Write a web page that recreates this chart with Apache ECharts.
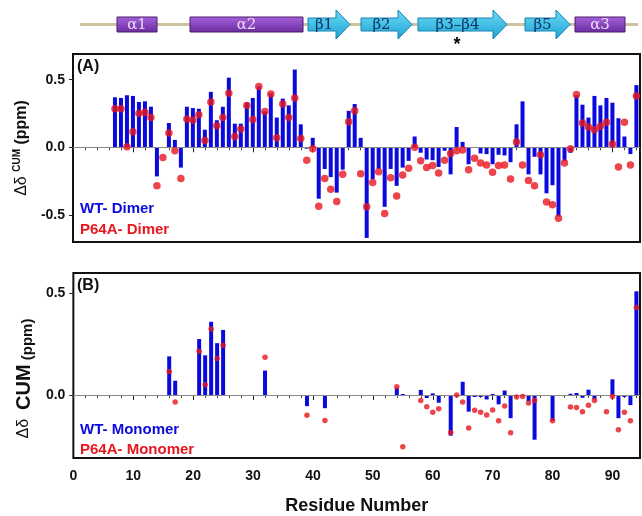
<!DOCTYPE html>
<html>
<head>
<meta charset="utf-8">
<script src="https://cdn.jsdelivr.net/npm/echarts@6/dist/echarts.min.js"></script>
<style>
  html, body { margin: 0; padding: 0; background: #fff; }
  #chart { width: 642px; height: 516px; }
</style>
</head>
<body>
<div id="chart"></div>
<script>
// residues 7..94, panel (A)
var residuesA = [];
for (var r = 7; r <= 94; r++) residuesA.push(r);

var wtDimer = [
  0.37, 0.365, 0.385, 0.38, 0.335, 0.34, 0.30, -0.215, null, 0.18,
  0.055, -0.15, 0.30, 0.29, 0.285, 0.13, 0.41, 0.20, 0.30, 0.515,
  0.175, 0.175, 0.33, 0.365, 0.45, 0.265, 0.40, 0.22, 0.36, 0.31,
  0.575, 0.17, -0.01, 0.07, -0.38, -0.16, -0.22, -0.335, -0.165, 0.27,
  0.32, 0.07, -0.67, -0.235, -0.16, -0.44, -0.16, -0.285, -0.15, -0.10,
  0.08, -0.04, -0.09, -0.095, -0.145, -0.025, -0.20, 0.15, 0.04, -0.125,
  -0.005, -0.045, -0.05, -0.125, -0.055, -0.06, -0.11, 0.17, 0.34, -0.20,
  -0.07, -0.20, -0.34, -0.28, -0.51, -0.10, -0.04, 0.385, 0.315, 0.22,
  0.38, 0.31, 0.365, 0.33, 0.215, 0.08, -0.05, 0.46
];
var p64aDimer = [
  0.285, 0.285, 0.005, 0.115, 0.25, 0.26, 0.22, -0.285, -0.075, 0.105,
  -0.025, -0.23, 0.21, 0.20, 0.24, 0.05, 0.335, 0.16, 0.22, 0.40,
  0.08, 0.135, 0.31, 0.205, 0.45, 0.265, 0.395, 0.07, 0.32, 0.22,
  0.365, 0.065, -0.095, -0.01, -0.435, -0.23, -0.31, -0.40, -0.20, 0.19,
  0.27, -0.195, -0.44, -0.26, -0.18, -0.49, -0.225, -0.36, -0.205, -0.155,
  0.0, -0.10, -0.15, -0.135, -0.19, -0.095, -0.045, -0.025, -0.02, -0.165,
  -0.08, -0.115, -0.13, -0.185, -0.135, -0.13, -0.235, 0.04, -0.13, -0.245,
  -0.285, -0.055, -0.405, -0.425, -0.525, -0.115, -0.01, 0.39, 0.18, 0.15,
  0.13, 0.155, 0.185, 0.025, -0.145, 0.185, -0.13, 0.38
];

// panel (B)
var residuesB = [16, 17, 21, 22, 23, 24, 25, 32, 39, 42, 54, 55, 58, 59, 60, 61,
  63, 64, 65, 66, 67, 68, 69, 70, 71, 72, 73, 74, 75, 76, 77, 80,
  83, 84, 85, 86, 87, 89, 90, 91, 92, 93, 94];
var wtMonomer = [0.19, 0.07, 0.275, 0.195, 0.36, 0.255, 0.32, 0.12, -0.055, -0.065, 0.035, 0.005, 0.025, -0.015, 0.008, -0.038,
  -0.20, null, 0.065, -0.082, -0.01, -0.01, -0.022, 0.005, -0.046, 0.022, -0.114, null, null, -0.03, -0.22, -0.127,
  0.006, 0.01, -0.014, 0.026, -0.021, null, 0.077, -0.114, -0.01, -0.05, 0.51];
var p64aMonomer = [0.115, -0.035, 0.215, 0.05, 0.325, 0.18, 0.245, 0.185, -0.10, -0.125, 0.04, -0.255, -0.027, -0.058, -0.085, -0.068,
  -0.185, 0.0, -0.035, -0.163, -0.075, -0.085, -0.098, -0.074, -0.127, -0.054, -0.186, -0.01, -0.008, -0.04, -0.027, -0.127,
  -0.059, -0.062, -0.082, -0.05, -0.027, -0.082, -0.008, -0.171, -0.085, -0.127, 0.43];

var xTicks = [0, 10, 20, 30, 40, 50, 60, 70, 80, 90];
var yTicksA = [-0.5, 0, 0.5];
var yTicksB = [0, 0.5];

function pairs (xs, ys) {
  var out = [];
  xs.forEach(function (x, i) {
    if (ys[i] !== null) out.push([x, ys[i]]);
  });
  return out;
}

var BLUE = '#0a0ade';
var RED = '#e8161e';
var FONT = 'Liberation Sans, Arial, sans-serif';

// secondary structure elements along the top
var helices = [
  { name: 'α1', x0: 117, x1: 157 },
  { name: 'α2', x0: 190, x1: 303 },
  { name: 'α3', x0: 575, x1: 625 }
];
var strands = [
  { name: 'β1', x0: 308, x1: 350 },
  { name: 'β2', x0: 361, x1: 412 },
  { name: 'β3–β4', x0: 418, x1: 507 },
  { name: 'β5', x0: 525, x1: 570 }
];

var graphics = [{
  type: 'rect',
  shape: { x: 80, y: 23, width: 558, height: 3 },
  style: { fill: '#cfc29f' }
}];
helices.forEach(function (h) {
  graphics.push({
    type: 'rect',
    shape: { x: h.x0, y: 17, width: h.x1 - h.x0, height: 15 },
    style: {
      fill: new echarts.graphic.LinearGradient(0, 0, 0, 1, [
        { offset: 0, color: '#a862dc' },
        { offset: 1, color: '#6a2b9e' }
      ]),
      stroke: '#4a1f6e',
      lineWidth: 1
    }
  });
  graphics.push({
    type: 'text',
    x: (h.x0 + h.x1) / 2,
    y: 25,
    style: {
      text: h.name, align: 'center', verticalAlign: 'middle',
      fill: '#eadcf8', font: '15px DejaVu Serif, serif'
    }
  });
});
strands.forEach(function (s) {
  var xh = s.x1 - 14;
  graphics.push({
    type: 'polygon',
    shape: {
      points: [[s.x0, 18], [xh, 18], [xh, 10], [s.x1, 24.5], [xh, 39], [xh, 31], [s.x0, 31]]
    },
    style: {
      fill: new echarts.graphic.LinearGradient(0, 0, 0, 1, [
        { offset: 0, color: '#6fdcf6' },
        { offset: 1, color: '#1aa2d4' }
      ]),
      stroke: '#1684b4',
      lineWidth: 1
    }
  });
  graphics.push({
    type: 'text',
    x: (s.x0 + xh) / 2 + 2,
    y: 25,
    style: {
      text: s.name, align: 'center', verticalAlign: 'middle',
      fill: '#0d3566', font: '15px DejaVu Serif, serif'
    }
  });
});
graphics.push({
  type: 'text', x: 457, y: 45,
  style: { text: '*', align: 'center', verticalAlign: 'middle', fill: '#000', font: 'bold 18px ' + FONT }
});

// panel labels and legends
function label (txt, x, y, color, size) {
  return {
    type: 'text', x: x, y: y, z: 10,
    style: { text: txt, align: 'left', verticalAlign: 'middle', fill: color, font: 'bold ' + size + 'px ' + FONT }
  };
}
graphics.push(label('(A)', 77, 67, '#111', 16));
graphics.push(label('WT- Dimer', 80, 209, BLUE, 15));
graphics.push(label('P64A- Dimer', 80, 230, RED, 15));
graphics.push(label('(B)', 77, 286, '#111', 16));
graphics.push(label('WT- Monomer', 80, 430, BLUE, 15));
graphics.push(label('P64A- Monomer', 80, 450, RED, 15));

function xAxisFor (idx, showLabels) {
  return {
    type: 'value',
    gridIndex: idx,
    min: 0,
    max: 94.6,
    interval: 10,
    axisLine: { show: false },
    axisTick: { show: true, inside: false, length: 5, lineStyle: { color: '#222', width: 1 } },
    minorTick: { show: true, splitNumber: 5, length: 3, lineStyle: { color: '#444' } },
    splitLine: { show: false },
    axisLabel: {
      show: showLabels,
      margin: 11,
      color: '#111',
      fontFamily: FONT,
      fontWeight: 'bold',
      fontSize: 14,
      customValues: xTicks
    },
    name: showLabels ? 'Residue Number' : '',
    nameLocation: 'middle',
    nameGap: 39,
    nameTextStyle: { color: '#111', fontFamily: FONT, fontWeight: 'bold', fontSize: 18 }
  };
}

function yAxisFor (idx, min, max, ticks, name, rich, padding) {
  return {
    type: 'value',
    gridIndex: idx,
    min: min,
    max: max,
    axisLine: { show: false },
    axisTick: { show: true, length: 4, customValues: ticks, lineStyle: { color: '#222' } },
    splitLine: { show: false },
    axisLabel: {
      margin: 8,
      color: '#111',
      fontFamily: FONT,
      fontWeight: 'bold',
      fontSize: 14,
      customValues: ticks,
      formatter: function (v) { return v.toFixed(1) }
    },
    name: name,
    nameLocation: 'middle',
    nameRotate: 90,
    nameGap: 37,
    nameTextStyle: { color: '#111', fontFamily: FONT, rich: rich, padding: padding }
  };
}

var zeroLine = {
  silent: true,
  symbol: 'none',
  label: { show: false },
  lineStyle: { color: '#8a8a8a', width: 1, type: 'solid' },
  data: [{ yAxis: 0 }]
};

var chart = echarts.init(document.getElementById('chart'));
chart.setOption({
  backgroundColor: '#ffffff',
  animation: false,
  graphic: graphics,
  grid: [
    { left: 73, top: 54, width: 567, height: 188, show: true, borderColor: '#111', borderWidth: 2 },
    { left: 73, top: 273, width: 567, height: 188, show: true, borderColor: '#111', borderWidth: 2 }
  ],
  xAxis: [xAxisFor(0, false), xAxisFor(1, true)],
  yAxis: [
    yAxisFor(0, -0.7, 0.69, yTicksA, '{a|Δδ }{s|CUM}{b| (ppm)}', {
      a: { fontSize: 16, fontFamily: FONT, color: '#111', lineHeight: 20 },
      s: { fontSize: 10, fontFamily: FONT, fontWeight: 'bold', color: '#111', verticalAlign: 'top', lineHeight: 20 },
      b: { fontSize: 16, fontFamily: FONT, fontWeight: 'bold', color: '#111', lineHeight: 20 }
    }, [0, 0, 0, 0]),
    yAxisFor(1, -0.31, 0.6, yTicksB, '{a|Δδ  }{s|CUM}{b| (ppm)}', {
      a: { fontSize: 16, fontFamily: FONT, color: '#111', lineHeight: 22, verticalAlign: 'middle' },
      s: { fontSize: 20, fontFamily: FONT, fontWeight: 'bold', color: '#111', lineHeight: 22, verticalAlign: 'middle' },
      b: { fontSize: 15, fontFamily: FONT, fontWeight: 'bold', color: '#111', lineHeight: 22, verticalAlign: 'bottom', padding: [12, 0, 0, 0] }
    }, [0, 26, 0, 0])
  ],
  series: [
    {
      name: 'WT- Dimer', type: 'bar', xAxisIndex: 0, yAxisIndex: 0,
      barWidth: 4, itemStyle: { color: BLUE },
      data: pairs(residuesA, wtDimer),
      markLine: zeroLine
    },
    {
      name: 'P64A- Dimer', type: 'scatter', xAxisIndex: 0, yAxisIndex: 0,
      symbolSize: 7.5, itemStyle: { color: RED }, z: 5,
      data: pairs(residuesA, p64aDimer)
    },
    {
      name: 'WT- Monomer', type: 'bar', xAxisIndex: 1, yAxisIndex: 1,
      barWidth: 4, itemStyle: { color: BLUE },
      data: pairs(residuesB, wtMonomer),
      markLine: zeroLine
    },
    {
      name: 'P64A- Monomer', type: 'scatter', xAxisIndex: 1, yAxisIndex: 1,
      symbolSize: 5.5, itemStyle: { color: RED }, z: 5,
      data: pairs(residuesB, p64aMonomer)
    }
  ]
});
</script>
</body>
</html>
